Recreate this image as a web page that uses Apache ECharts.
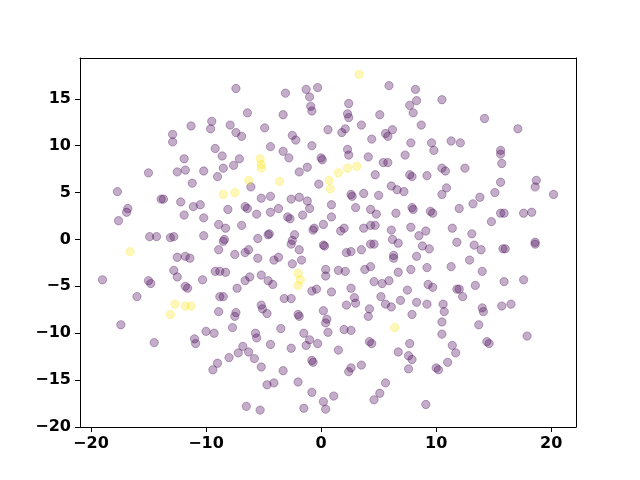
<!DOCTYPE html>
<html>
<head>
<meta charset="utf-8">
<script src="https://cdn.jsdelivr.net/npm/echarts@6/dist/echarts.min.js"></script>
<style>
  html, body { margin: 0; padding: 0; background: #fff; }
  #chart { width: 640px; height: 480px; }
</style>
</head>
<body>
<div id="chart"></div>
<script>
// class 0 (dark purple), split by area
const darkTop = [
  [-11.3,12.1],[-12.9,11.2],[-12.9,10.4],[-11.9,8.6],[-15.0,7.1],[-12.5,7.2],[-11.8,7.4],[-10.2,7.3],[-11.2,6.0],
  [-7.4,16.1],[-3.1,15.6],[-1.3,16.0],[-0.3,16.2],[-1.0,15.2],[-0.9,14.2],[-0.8,13.7],[-6.4,13.5],[-3.3,13.3],
  [-9.5,12.6],[-9.6,11.8],[-7.9,12.2],[-7.4,11.4],[-6.9,11.0],[-4.9,11.9],[-2.5,11.1],[-2.2,10.6],[0.6,11.7],
  [-9.2,9.7],[-8.6,8.9],[-7.1,8.6],[-7.6,7.9],[-8.5,7.6],[-9.0,6.7],[-4.4,9.9],[-3.3,9.4],[-2.8,8.7],[-0.8,10.0],
  [0.0,8.7],[0.1,8.5],[-1.2,7.7],[-1.9,7.2],[-0.2,5.9],
  [5.9,16.4],[8.2,16.0],[8.3,14.8],[7.7,14.3],[8.0,13.5],[10.5,14.9],[2.4,14.5],[2.3,13.4],[2.4,13.0],[5.1,13.3],
  [3.5,12.2],[2.1,11.8],[1.8,11.4],[6.2,11.7],[5.6,11.3],[5.8,11.0],[8.7,12.2],[4.4,10.7],[7.8,10.3],[9.6,10.3],
  [9.8,9.5],[11.3,10.5],[2.3,9.6],[2.4,9.0],[4.1,8.8],[7.3,9.0],[5.4,8.2],[5.8,8.2],[10.5,7.6],[10.8,7.3],
  [7.7,6.9],[7.9,6.7],[9.2,6.8],[4.7,6.9],[10.9,5.5],
  [14.2,12.9],[17.1,11.8],[12.1,10.3],[15.6,9.5],[15.6,9.1],[15.7,8.1],[12.5,7.6],[18.7,6.3],[15.6,6.1]
];
const darkMiddle = [
  [-17.7,5.1],[-13.9,4.3],[-13.7,4.3],[-12.2,4.0],[-11.1,3.5],[-10.5,3.7],[-16.8,3.3],[-16.9,2.9],[-17.6,2.0],
  [-11.9,2.6],[-14.9,0.3],[-14.3,0.3],[-13.1,0.2],[-12.8,0.3],[-10.2,0.4],[-12.5,-1.9],[-11.8,-1.8],[-11.4,-2.0],
  [-12.8,-3.3],[-12.5,-4.0],[-19.0,-4.3],[-15.0,-4.4],[-14.8,-4.7],[-10.3,-4.3],[-11.8,-5.0],[-11.6,-5.2],[-16.0,-6.1],
  [-6.1,5.6],[-5.2,4.4],[-4.4,4.6],[-2.6,4.3],[-1.9,4.5],[-1.2,4.1],[-1.0,3.3],[-8.1,3.2],[-6.6,3.5],[-6.4,3.3],
  [-5.6,2.7],[-4.4,2.9],[-3.7,3.3],[-2.9,2.4],[-2.7,2.2],[-1.6,2.6],[-10.2,2.3],[-8.9,1.6],[-8.3,1.2],[-6.9,1.5],
  [-4.5,0.6],[-4.6,0.5],[-2.3,0.5],[-2.5,-0.1],[-2.6,-0.5],[-0.7,1.0],[-0.6,1.2],[0.2,1.6],[0.2,-0.6],[0.3,-0.7],
  [-8.4,0.0],[-8.5,-0.2],[-5.5,0.1],[-8.9,-1.1],[-7.5,-1.6],[-6.6,-1.4],[-6.3,-1.1],[-1.9,-1.1],[-5.5,-2.0],
  [-4.1,-2.2],[-3.7,-1.9],[-2.5,-2.6],[-1.7,-2.2],[-9.2,-3.4],[-8.8,-3.4],[-8.3,-3.5],[-5.2,-3.8],[-6.6,-4.4],
  [-6.2,-4.0],[-4.6,-4.4],[-4.2,-4.8],[-7.3,-5.2],[-8.8,-6.1],[-8.5,-6.1],[-5.2,-7.0],[-3.2,-6.3],[-2.6,-6.3],
  [-0.8,-5.5],[-0.4,-5.3],[0.4,-3.2],[0.4,-3.9],
  [2.6,4.8],[2.7,4.6],[3.7,4.9],[5.0,4.7],[6.1,5.7],[6.6,5.3],[7.2,5.1],[10.5,4.8],[0.9,3.7],[0.9,2.4],[3.0,3.4],
  [4.3,3.2],[4.8,2.7],[6.5,2.8],[7.9,3.4],[8.0,3.2],[9.5,3.0],[9.7,2.8],[1.7,0.9],[2.0,1.2],[3.7,1.2],[4.3,1.5],
  [4.7,1.5],[6.1,1.0],[6.2,0.0],[6.7,-0.4],[7.8,1.3],[8.5,0.4],[9.1,0.9],[11.4,1.2],[4.3,-0.5],[4.6,-0.5],
  [8.8,-0.7],[9.4,-1.0],[2.2,-1.4],[2.6,-1.3],[3.5,-1.1],[6.3,-1.7],[6.3,-2.0],[8.3,-1.8],[1.5,-3.3],[2.1,-3.4],
  [3.8,-3.2],[4.3,-2.9],[6.7,-3.5],[7.8,-3.2],[9.2,-3.0],[11.3,-2.9],[4.6,-4.5],[5.3,-4.7],[5.9,-4.4],[9.3,-4.8],
  [9.7,-5.1],[2.6,-5.2],[0.9,-5.6],[2.9,-6.2],[5.2,-6.1],[7.5,-5.4],[5.6,-6.9],[6.9,-6.5],[8.3,-6.7],[9.2,-6.9],
  [10.6,-6.9],[2.2,-7.0],[3.0,-6.8],
  [18.6,5.6],[20.2,4.8],[15.1,5.0],[13.8,4.5],[13.2,3.8],[12.0,3.3],[15.6,2.8],[15.9,2.8],[17.6,2.8],[18.3,2.9],
  [14.8,1.9],[13.1,0.6],[11.8,-0.3],[13.3,-0.6],[13.9,-1.1],[15.8,-1.0],[16.0,-1.0],[18.6,-0.3],[18.6,-0.5],
  [12.9,-2.2],[14.0,-3.4],[15.9,-4.5],[17.6,-4.3],[13.4,-4.9],[11.8,-5.3],[12.0,-5.3],[12.3,-6.1],[14.0,-7.3],
  [14.1,-7.7],[15.7,-7.1],[16.5,-6.9]
];
const darkBottom = [
  [-17.4,-9.1],[-14.5,-11.0],[-11.0,-10.6],[-10.9,-11.1],[-10.0,-9.8],
  [-8.9,-7.7],[-7.4,-7.8],[-7.5,-8.2],[-5.1,-7.4],[-4.7,-7.9],[-2.0,-8.0],[-1.9,-8.2],[0.2,-7.6],[0.5,-8.5],
  [0.4,-8.9],[0.6,-9.9],[-9.3,-10.0],[-7.7,-9.4],[-5.7,-10.0],[-5.6,-10.5],[-3.5,-9.5],[-1.5,-10.0],[-1.0,-10.7],
  [-0.3,-11.1],[-1.3,-11.3],[-4.4,-11.2],[-2.6,-11.6],[-6.8,-11.4],[-7.2,-12.1],[-6.3,-12.0],[-5.8,-12.7],
  [-8.0,-12.6],[-9.0,-13.2],[-9.4,-13.9],[-5.2,-13.6],[-0.8,-12.9],[-0.7,-13.1],[-3.3,-14.0],[-4.7,-15.5],
  [-4.1,-15.3],[-2.0,-15.2],[-0.8,-16.3],[-6.5,-17.8],[-5.3,-18.2],[-1.5,-18.0],[0.2,-17.3],[0.4,-18.1],
  [4.2,-7.4],[4.1,-8.2],[6.1,-7.2],[10.7,-7.7],[7.9,-8.0],[10.5,-8.8],[10.5,-10.1],[11.4,-11.3],[2.0,-9.6],
  [2.6,-9.7],[4.2,-10.9],[4.4,-11.1],[1.5,-11.8],[7.7,-11.1],[6.7,-12.0],[7.6,-12.4],[7.9,-12.8],[3.5,-13.4],
  [2.6,-13.7],[2.4,-14.1],[7.6,-13.8],[10.0,-13.7],[10.2,-13.9],[11.0,-13.1],[5.6,-15.3],[5.1,-16.4],[4.6,-17.1],
  [1.1,-16.7],[9.1,-17.6],
  [13.7,-9.1],[14.4,-10.9],[14.6,-11.1],[17.9,-10.3],[11.7,-12.1]
];
// class 1 (yellow)
const brightPoints = [
  [3.3,17.6],[-5.3,8.6],[-5.2,8.0],[-5.2,7.6],[-6.3,6.3],[-3.6,6.2],[0.7,6.3],[0.8,5.4],[3.1,7.8],[2.3,7.6],
  [1.5,7.1],[-8.5,4.8],[-7.5,5.0],[-16.6,-1.3],[-2.0,-3.6],[-1.8,-4.3],[-2.0,-4.9],[-12.7,-6.9],[-11.8,-7.1],
  [-11.3,-7.1],[-13.1,-8.0],[6.4,-9.4]
];
const xTicks = [-20, -10, 0, 10, 20];
const yTicks = [-20, -15, -10, -5, 0, 5, 10, 15];

const chart = echarts.init(document.getElementById('chart'), null, { renderer: 'canvas' });

const axisFont = {
  color: '#000',
  fontSize: 16,
  fontWeight: 'bold',
  fontFamily: 'DejaVu Sans'
};
const spine = { show: true, onZero: false, lineStyle: { color: '#000', width: 1 } };

function mainAxis(lo, hi, ticks, pos) {
  return {
    type: 'value',
    position: pos,
    min: lo,
    max: hi,
    splitLine: { show: false },
    axisLine: spine,
    axisTick: { show: true, length: 5, inside: false, lineStyle: { color: '#000' }, customValues: ticks },
    axisLabel: Object.assign({ margin: 9, customValues: ticks,
      formatter: v => String(v).replace('-', '\u2212') }, axisFont)
  };
}
// top / right spines only
function boxAxis(lo, hi, pos) {
  return {
    type: 'value',
    position: pos,
    min: lo,
    max: hi,
    splitLine: { show: false },
    axisLine: spine,
    axisTick: { show: false },
    axisLabel: { show: false }
  };
}

function scatter(data, rgb) {
  return {
    type: 'scatter',
    data: data,
    symbolSize: 8.3,
    silent: true,
    itemStyle: {
      color: 'rgba(' + rgb + ',0.4)',
      borderColor: 'rgba(' + rgb + ',0.4)',
      borderWidth: 1
    }
  };
}

chart.setOption({
  animation: false,
  grid: { left: 80, right: 64, top: 58, bottom: 53 },
  xAxis: [mainAxis(-20.95, 22.15, xTicks, 'bottom'), boxAxis(-20.95, 22.15, 'top')],
  yAxis: [mainAxis(-20, 19.35, yTicks, 'left'), boxAxis(-20, 19.35, 'right')],
  series: [
    scatter(darkTop, '68,1,84'),
    scatter(darkMiddle, '68,1,84'),
    scatter(darkBottom, '68,1,84'),
    scatter(brightPoints, '253,231,37')
  ]
});
</script>
</body>
</html>
